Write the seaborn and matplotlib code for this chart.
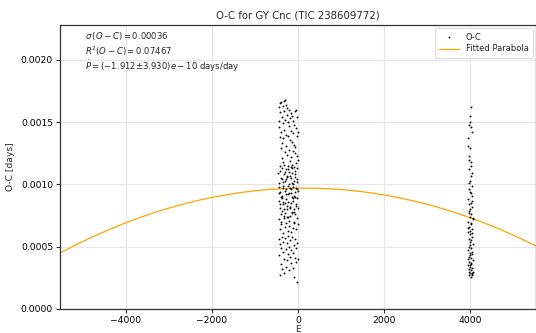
import numpy as np
import pandas as pd
import matplotlib
matplotlib.use("Agg")
import matplotlib.pyplot as plt
import seaborn as sns

# ---- data ----
# cluster 1: epoch numbers and O-C in units of 1e-4 days
e_a = [-452, -440, -431, -425, -418, -410, -402, -396, -388, -380, -372, -366, -359, -350, -344, -337,
       -330, -322, -315, -307, -300, -292, -285, -277, -270, -262, -255, -247, -240, -232, -224, -216,
       -209, -201, -194, -186, -178, -170, -163, -155, -148, -140, -132, -125, -117, -110, -102, -94,
       -87, -79, -71, -64, -56, -48, -41, -33, -25, -18, -10, -5]
oc_a = [16.2, 15.1, 14.6, 16.5, 13.8, 15.8, 14.2, 12.9, 16.6, 13.3, 15.4, 12.1, 14.9, 16.3, 11.8, 13.7,
        15.9, 16.7, 14.4, 12.6, 16.8, 15.2, 13.1, 16.4, 14.0, 15.6, 12.4, 16.1, 13.9, 15.0, 11.5, 14.7,
        16.0, 12.8, 15.3, 13.6, 11.9, 14.3, 15.7, 12.2, 13.4, 15.5, 11.6, 14.1, 12.7, 15.1, 13.2, 11.4,
        14.8, 12.5, 15.9, 13.0, 11.7, 14.5, 16.0, 12.3, 13.9, 15.4, 12.0, 14.2]
e_b = [-455, -447, -439, -433, -426, -420, -414, -407, -400, -394, -387, -381, -375, -369, -362, -356,
       -349, -343, -337, -331, -324, -318, -312, -305, -299, -293, -287, -280, -274, -268, -261, -255,
       -249, -243, -236, -230, -224, -218, -211, -205, -199, -192, -186, -180, -173, -167, -161, -154,
       -148, -142, -135, -129, -123, -116, -110, -104, -97, -91, -85, -78, -72, -66, -59, -53, -47, -40,
       -34, -28, -21, -15, -8, -3,
       -450, -436, -423, -411, -398, -385, -371, -358, -346, -333, -320, -308, -296, -283, -271, -258,
       -246, -233, -221, -208, -196, -183, -171, -158, -146, -133, -121, -108, -96, -83, -70, -58, -45,
       -32, -20, -7]
oc_b = [10.9, 8.7, 7.2, 9.8, 6.4, 11.1, 8.1, 9.4, 7.6, 10.5, 6.8, 8.9, 11.3, 7.9, 9.1, 10.2,
        6.1, 8.4, 9.7, 7.3, 10.8, 8.0, 6.6, 9.5, 11.0, 7.7, 8.8, 10.4, 6.9, 9.2, 7.4, 10.6,
        8.3, 9.9, 6.3, 11.2, 8.6, 7.1, 10.0, 9.3, 6.7, 8.2, 10.7, 7.5, 9.6, 11.4, 8.5, 6.2,
        10.1, 7.8, 9.0, 10.9, 6.5, 8.7, 9.8, 7.0, 10.3, 8.0, 6.9, 11.1, 9.4, 7.6, 10.6, 8.4, 6.4, 9.7,
        11.3, 7.3, 8.9, 10.2, 6.8, 9.5,
        9.3, 10.1, 8.4, 11.5, 9.0, 7.0, 10.4, 8.6, 9.9, 11.6, 7.5, 10.3, 8.5, 9.6, 11.2, 8.0,
        10.7, 9.2, 7.4, 11.0, 9.7, 8.1, 10.5, 9.3, 7.7, 11.3, 8.9, 10.0, 9.1, 7.8, 10.8, 9.0, 8.3,
        10.4, 9.6, 8.1]
e_c = [-448, -437, -428, -415, -403, -391, -379, -364, -352, -339, -326, -314, -302, -289, -276, -264,
       -251, -238, -226, -213, -201, -188, -176, -163, -151, -138, -126, -113, -100, -88, -75, -62, -50,
       -37, -26, -13, -4]
oc_c = [5.6, 4.3, 2.7, 5.2, 3.6, 4.9, 5.8, 3.2, 4.6, 5.4, 2.9, 4.0, 5.7, 3.4, 4.8, 5.3,
        3.9, 5.9, 4.4, 3.1, 5.0, 4.2, 5.5, 3.7, 4.7, 5.8, 3.3, 4.5, 5.1, 2.6, 4.1, 5.6, 3.8,
        4.9, 2.2, 5.3, 4.0]
# cluster 2
e_d = [4010, 3990, 3965, 4030, 3950, 4000, 3975, 4020, 3955, 4005, 3985, 4040, 3945, 4015, 3970, 4035,
       3960, 3995, 4012, 3968,
       3980, 4025, 3948, 4008, 4045, 3958, 4018, 3988, 4050, 3940, 4002, 3972, 4028, 3952, 3992, 4038,
       3962, 4022, 3983, 4055, 3942, 4006, 3978, 4042, 3966,
       4026, 3956, 3994, 4048, 3964, 4016, 3944, 3986, 4036, 3960, 4004, 4052, 3976, 4022, 3949, 3998,
       4040, 3958, 4012, 4054, 3982, 4030, 3967, 4018, 4044, 4000, 3954, 4034, 3990, 4010, 3962, 4046,
       3979, 4008]
oc_d = [16.2, 15.5, 14.8, 14.2, 13.7, 12.9, 12.3, 11.8, 11.2, 10.7, 10.3, 9.9, 13.1, 14.6, 12.0, 10.9,
        9.6, 15.0, 11.5, 10.1,
        9.4, 9.1, 8.8, 8.5, 8.2, 7.9, 7.6, 7.4, 7.2, 7.0, 6.8, 6.6, 6.4, 6.2, 6.0, 8.7,
        7.7, 6.9, 8.0, 7.3, 6.5, 9.3, 6.3, 6.1, 8.4,
        5.8, 5.6, 5.4, 5.2, 5.0, 4.9, 4.7, 4.5, 4.4, 4.2, 4.1, 3.9, 3.8, 3.6, 3.5, 3.4,
        3.3, 3.2, 3.1, 3.0, 2.9, 2.8, 2.7, 2.6, 2.9, 3.5, 4.0, 4.6, 5.1, 5.5, 3.0, 2.7,
        4.3, 3.7]

# fitted parabola coefficients: O-C = c0 + c1*E + c2*E^2
fit_coef = [0.00097, 5.1e-9, -1.615e-11]
e_range = [-5520, 5520]

stats_lines = ["$\\sigma\\,(O-C) = 0.00036$",
               "$R^2(O-C) = 0.07467$",
               "$\\dot{P} = (-1.912{\\pm}3.930)e-10$ days/day"]

# ---- build frames ----
E = np.array(e_a + e_b + e_c + e_d, dtype=float)
OC = np.array(oc_a + oc_b + oc_c + oc_d) * 1e-4
pts = pd.DataFrame({"E": E, "OC": OC})
xx = np.linspace(e_range[0], e_range[1], 400)
fit = pd.DataFrame({"E": xx, "OC": fit_coef[0] + fit_coef[1] * xx + fit_coef[2] * xx ** 2})

sns.set_style("whitegrid", {"axes.edgecolor": "#333333", "grid.color": "#e6e6e6",
                            "xtick.bottom": True, "ytick.left": True})
plt.rcParams["font.family"] = ["DejaVu Sans"]

fig = plt.figure(figsize=(5.36, 3.33), dpi=100)
ax = fig.add_axes([60 / 536, 1 - 309 / 333, 476 / 536, 284 / 333])

sns.scatterplot(data=pts, x="E", y="OC", ax=ax, color="black", s=1.8, linewidth=0,
                marker="o", label="O-C", zorder=3)
sns.lineplot(data=fit, x="E", y="OC", ax=ax, color="orange", linewidth=0.9,
             label="Fitted Parabola", zorder=2)

ax.set_xlim(e_range)
ax.set_ylim(0, 0.00228)
ax.set_xticks([-4000, -2000, 0, 2000, 4000])
ax.set_yticks([0, 0.0005, 0.0010, 0.0015, 0.0020])
ax.set_yticklabels(["0.0000", "0.0005", "0.0010", "0.0015", "0.0020"])
ax.tick_params(labelsize=6.6, length=3, width=0.8, colors="#333333", labelcolor="black", pad=2)
for s in ax.spines.values():
    s.set_linewidth(0.9)
ax.set_xlabel("E", fontsize=6.5, labelpad=0)
ax.set_ylabel("O-C [days]", fontsize=6.6, labelpad=4)
ax.set_title("O-C for GY Cnc (TIC 238609772)", fontsize=7.3, pad=5)

for txt, yf in zip(stats_lines, [0.961, 0.908, 0.856]):
    ax.text(0.053, yf, txt, transform=ax.transAxes, fontsize=6.1, va="center", ha="left")

leg = ax.legend(loc="upper right", fontsize=6.0, frameon=True, markerscale=1.0,
                handlelength=2.4, borderpad=0.5, labelspacing=0.35, borderaxespad=0.4)
leg.get_frame().set_linewidth(0.6)

fig.savefig("out.png", dpi=100)
